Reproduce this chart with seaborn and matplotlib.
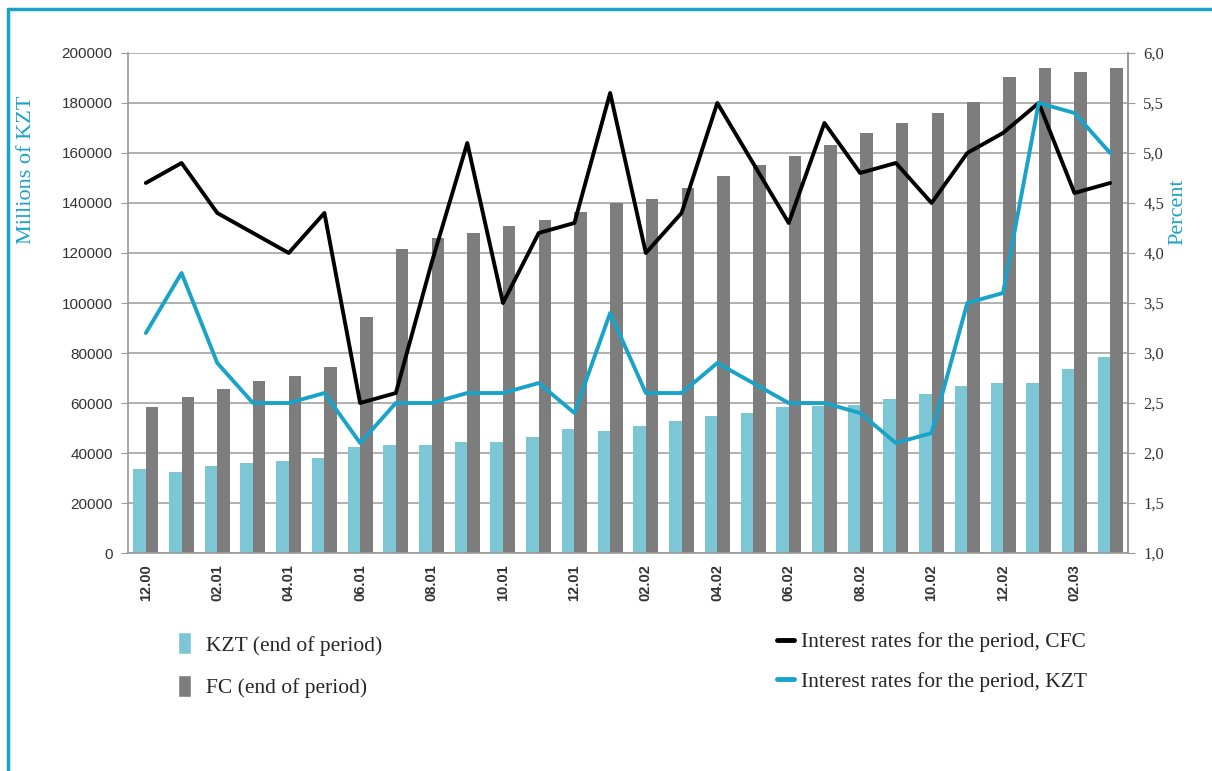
import matplotlib
matplotlib.use("Agg")
import matplotlib.pyplot as plt
import matplotlib.ticker as mticker
from matplotlib.patches import Patch
from matplotlib.lines import Line2D
import numpy as np
import pandas as pd
import seaborn as sns

# data
periods = ["12.00", "01.01", "02.01", "03.01", "04.01", "05.01", "06.01", "07.01",
           "08.01", "09.01", "10.01", "11.01", "12.01", "01.02", "02.02", "03.02",
           "04.02", "05.02", "06.02", "07.02", "08.02", "09.02", "10.02", "11.02",
           "12.02", "01.03", "02.03", "03.03"]
kzt_dep = [33600, 32500, 34800, 36000, 36800, 38000, 42500, 43300, 43300, 44300,
           44300, 46500, 49700, 48900, 50900, 52800, 54900, 56100, 58300, 58800,
           59200, 61500, 63600, 66800, 67900, 67900, 73500, 78500]
fc_dep = [58500, 62500, 65500, 69000, 71000, 74400, 94500, 121500, 125900, 128100,
          130900, 133200, 136500, 139900, 141700, 146100, 150800, 155000, 158800, 163200,
          167900, 171900, 176100, 180300, 190300, 193900, 192500, 193900]
rate_cfc = [4.7, 4.9, 4.4, 4.2, 4.0, 4.4, 2.5, 2.6, 3.9, 5.1, 3.5, 4.2, 4.3, 5.6,
            4.0, 4.4, 5.5, 4.9, 4.3, 5.3, 4.8, 4.9, 4.5, 5.0, 5.2, 5.5, 4.6, 4.7]
rate_kzt = [3.2, 3.8, 2.9, 2.5, 2.5, 2.6, 2.1, 2.5, 2.5, 2.6, 2.6, 2.7, 2.4, 3.4,
            2.6, 2.6, 2.9, 2.7, 2.5, 2.5, 2.4, 2.1, 2.2, 3.5, 3.6, 5.5, 5.4, 5.0]

bar_labels = ["KZT (end of period)", "FC (end of period)"]
line_labels = ["Interest rates for the period, CFC", "Interest rates for the period, KZT"]

CYAN = "#1aa3c8"
LIGHTBLUE = "#7cc6d6"
GREY = "#7d7d7d"

bars = pd.DataFrame({
    "period": periods * 2,
    "value": kzt_dep + fc_dep,
    "series": [bar_labels[0]] * len(periods) + [bar_labels[1]] * len(periods),
})
lines = pd.DataFrame({
    "pos": list(range(len(periods))) * 2,
    "rate": rate_cfc + rate_kzt,
    "series": [line_labels[0]] * len(periods) + [line_labels[1]] * len(periods),
})

sns.set_style("white")
plt.rcParams["font.family"] = ["Liberation Sans", "DejaVu Sans"]

fig = plt.figure(figsize=(12.12, 7.71), dpi=100)
ax = fig.add_axes([0.1056, 0.2827, 0.8251, 0.6486])

sns.barplot(data=bars, x="period", y="value", hue="series", order=periods,
            palette=[LIGHTBLUE, GREY], width=0.7, saturation=1, ax=ax,
            legend=False, linewidth=0)

ax.set_ylim(0, 200000)
ax.set_xlim(-0.5, len(periods) - 0.5)
ax.yaxis.set_major_locator(mticker.MultipleLocator(20000))
ax.yaxis.grid(True, color="#aaaaaa", linewidth=1.3)
ax.set_axisbelow(True)
ax.set_xlabel("")
ax.set_ylabel("")
ax.spines["top"].set_visible(False)
for s in ["left", "right", "bottom"]:
    ax.spines[s].set_color("#999999")
    ax.spines[s].set_linewidth(1.2)
ax.tick_params(axis="y", length=5, color="#999999", labelsize=11, labelcolor="#333333", pad=6)
ax.set_xticks(range(0, len(periods), 2))
ax.set_xticklabels(periods[::2], rotation=90, fontsize=10.5, fontweight="bold",
                   color="#333333")
ax.set_xticks(np.arange(-0.5, len(periods), 1), minor=True)
ax.tick_params(axis="x", which="major", length=0, pad=8)
ax.tick_params(axis="x", which="minor", length=5, color="#999999")

ax2 = ax.twinx()
sns.lineplot(data=lines, x="pos", y="rate", hue="series", palette=["black", CYAN],
             linewidth=2.8, ax=ax2, legend=False)
ax2.set_ylim(1.0, 6.0)
ax2.yaxis.set_major_locator(mticker.MultipleLocator(0.5))
ax2.yaxis.set_major_formatter(mticker.FuncFormatter(lambda v, p: f"{v:.1f}".replace(".", ",")))
ax2.set_xlim(-0.5, len(periods) - 0.5)
ax2.set_xlabel("")
ax2.set_ylabel("")
for s in ["top", "left", "bottom"]:
    ax2.spines[s].set_visible(False)
ax2.spines["right"].set_color("#999999")
ax2.spines["right"].set_linewidth(1.2)
ax2.tick_params(axis="y", length=5, color="#999999", labelsize=12, labelcolor="#333333", pad=6)
for t in ax2.get_yticklabels():
    t.set_fontfamily("Liberation Serif")

fig.text(0.022, 0.78, "Millions of KZT", rotation=90, color=CYAN, fontsize=16,
         family="Liberation Serif", ha="center", va="center")
fig.text(0.972, 0.725, "Percent", rotation=90, color=CYAN, fontsize=16,
         family="Liberation Serif", ha="center", va="center")

leg_font = {"family": "Liberation Serif", "size": 15.5}
h_bars = [Patch(facecolor=LIGHTBLUE), Patch(facecolor=GREY)]
fig.legend(h_bars, bar_labels, loc="upper left", bbox_to_anchor=(0.131, 0.205),
           frameon=False, prop=leg_font, handlelength=0.6, handleheight=1.2,
           handletextpad=0.7, labelspacing=0.9)
h_lines = [Line2D([], [], color="black", linewidth=3.5), Line2D([], [], color=CYAN, linewidth=3.5)]
fig.legend(h_lines, line_labels, loc="upper left", bbox_to_anchor=(0.625, 0.205),
           frameon=False, prop=leg_font, handlelength=0.8, handletextpad=0.3,
           labelspacing=0.9)

# frame lines around the figure (top and left)
fig.add_artist(Line2D([0.0065, 1.0], [0.988, 0.988], color=CYAN, linewidth=2.5,
                      transform=fig.transFigure))
fig.add_artist(Line2D([0.0065, 0.0065], [0.0, 0.988], color=CYAN, linewidth=2.5,
                      transform=fig.transFigure))

fig.savefig("out.png", dpi=100)
